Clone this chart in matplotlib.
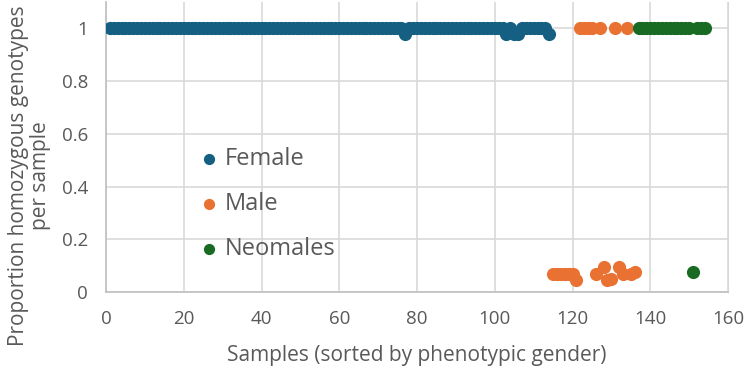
import matplotlib
matplotlib.use("Agg")
import matplotlib.pyplot as plt
from matplotlib.ticker import FuncFormatter

# Female samples 1-114, almost all fully homozygous
female_x = list(range(1, 115))
female_dips = {77: 0.98, 103: 0.98, 105: 0.98, 106: 0.98, 114: 0.98}
female_y = [female_dips.get(i, 1.0) for i in female_x]

# Male samples 115-136
male_x = [115, 116, 117, 118, 119, 120, 121, 122, 123, 124, 125, 126, 127,
          128, 129, 130, 131, 132, 133, 134, 135, 136]
male_y = [0.07, 0.07, 0.07, 0.07, 0.07, 0.07, 0.045, 1.0, 1.0, 1.0, 1.0, 0.07, 1.0,
          0.095, 0.045, 0.05, 1.0, 0.095, 0.07, 1.0, 0.07, 0.075]

# Neomales 137-154
neo_x = list(range(137, 155))
neo_y = [0.075 if i == 151 else 1.0 for i in neo_x]

c_female = "#156082"
c_male = "#E97132"
c_neo = "#196B24"
grey = "#595959"
grid = "#D9D9D9"

plt.rcParams['font.family'] = ['Open Sans', 'DejaVu Sans']

fig = plt.figure(figsize=(7.44, 3.67), dpi=100)
ax = fig.add_axes([0.1425, 0.2044, 0.836, 0.790])

ms = 90
ax.scatter(female_x, female_y, s=ms, color=c_female, label="Female", zorder=3, linewidths=0)
ax.scatter(male_x, male_y, s=ms, color=c_male, label="Male", zorder=3, linewidths=0)
ax.scatter(neo_x, neo_y, s=ms, color=c_neo, label="Neomales", zorder=3, linewidths=0)

ax.set_xlim(0, 160)
ax.set_ylim(0, 1.1)
ax.set_xticks(range(0, 161, 20))
ax.set_yticks([0, 0.2, 0.4, 0.6, 0.8, 1.0])
ax.yaxis.set_major_formatter(FuncFormatter(lambda v, p: f"{v:g}"))
ax.grid(True, color=grid, linewidth=1.2)
ax.set_axisbelow(True)

ax.spines["top"].set_visible(False)
ax.spines["right"].set_color(grid)
ax.spines["left"].set_color("#BFBFBF")
ax.spines["bottom"].set_color("#BFBFBF")
ax.spines["left"].set_linewidth(1.2)
ax.spines["bottom"].set_linewidth(1.2)
ax.tick_params(length=0, labelsize=13.5, colors=grey)
ax.tick_params(axis="x", pad=13)
ax.tick_params(axis="y", pad=13)

ax.set_xlabel("Samples (sorted by phenotypic gender)", fontsize=15, color=grey)
ax.xaxis.set_label_coords(0.5, -0.182)
ax.set_ylabel("Proportion homozygous genotypes\nper sample", fontsize=15, color=grey,
              linespacing=1.05)
ax.yaxis.set_label_coords(-0.088, 0.40)

leg = ax.legend(loc="center left", bbox_to_anchor=(0.154, 0.303), frameon=False,
                fontsize=17, labelspacing=0.88, handlelength=0.6, handletextpad=0.38,
                borderpad=0, borderaxespad=0, markerscale=0.85)
for t in leg.get_texts():
    t.set_color(grey)

fig.savefig("out.png", dpi=100)
